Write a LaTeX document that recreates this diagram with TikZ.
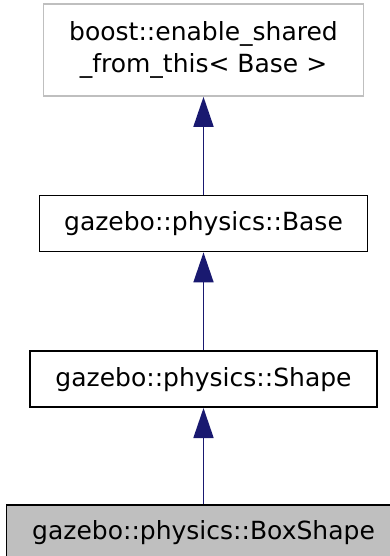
\documentclass[tikz,border=0pt]{standalone}
\usepackage{xcolor}
\usepackage{fontspec}
\setmainfont{DejaVu Sans}
\usepackage{tikz}
\usetikzlibrary{positioning, arrows.meta}
\definecolor{edgeblue}{HTML}{191970}
\definecolor{boxgray}{HTML}{BFBFBF}
\tikzstyle{arrow}    = [line width=1.7pt,draw=edgeblue,{Triangle[length=30pt,width=20pt]}-]

\begin{document}
\begin{tikzpicture}[
    x=1pt, y=-1pt,
    klass/.style={draw,line width=1.6pt,minimum height=56pt,inner sep=0pt,
      align=center,font=\fontsize{25}{31.6}\selectfont},
  ]
  \useasboundingbox (0,0) rectangle (390,556);
  \node[klass,draw=boxgray,minimum width=320pt,minimum height=92pt] (shared) at (203.5,50)
    {boost::enable\_shared\\\_from\_this< Base >};
  \node[klass,minimum width=328pt,below=98pt of shared] (base) {gazebo::physics::Base};
  \node[klass,minimum width=347pt,below=98pt of base] (shape) {gazebo::physics::Shape};
  \node[klass,fill=boxgray,minimum width=394pt,below=96pt of shape] (boxshape) {gazebo::physics::BoxShape};

  \draw[arrow] (shared) -- (base);
  \draw[arrow] (base) -- (shape);
  \draw[arrow] (shape) -- (boxshape);
\end{tikzpicture}
\end{document}
